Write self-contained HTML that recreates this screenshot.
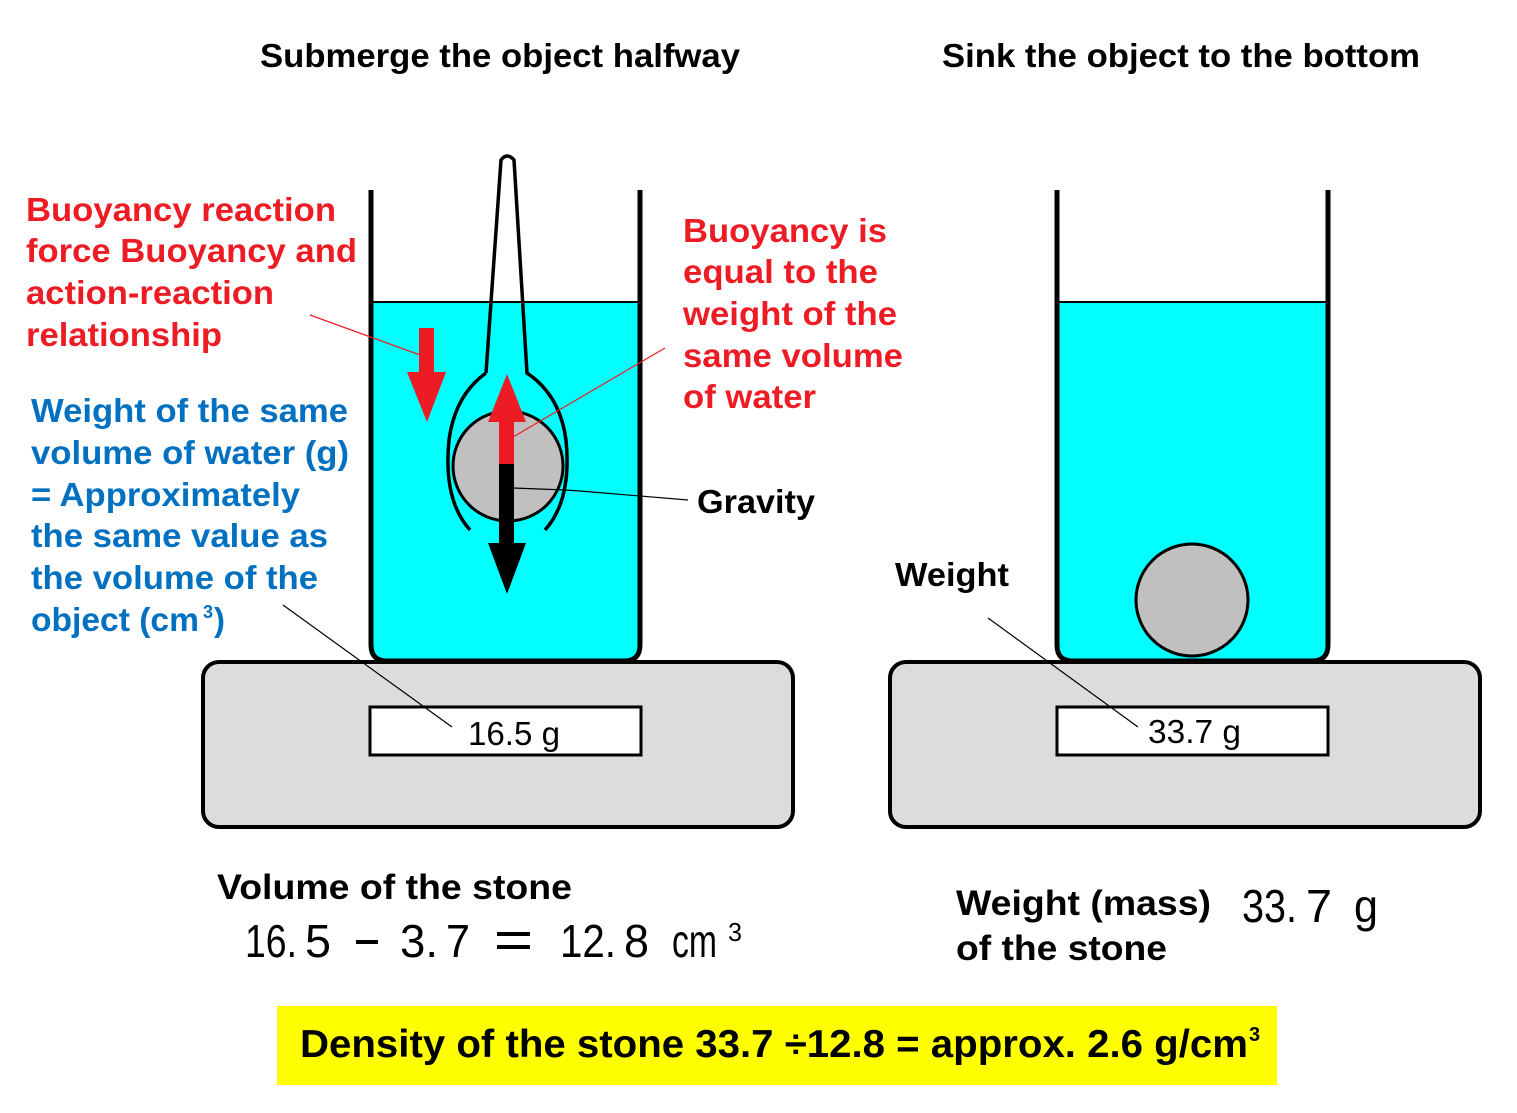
<!DOCTYPE html>
<html><head><meta charset="utf-8"><style>
html,body{margin:0;padding:0;background:#fff}
svg{display:block}
text{font-family:"Liberation Sans",sans-serif}
.b{font-weight:bold}
</style></head><body>
<svg width="1517" height="1113" viewBox="0 0 1517 1113" xmlns="http://www.w3.org/2000/svg">
<text x="260" y="67" class="b" font-size="33" textLength="480" lengthAdjust="spacingAndGlyphs">Submerge the object halfway</text>
<text x="942" y="67" class="b" font-size="33" textLength="478" lengthAdjust="spacingAndGlyphs">Sink the object to the bottom</text>

<rect x="203" y="662" width="590" height="165" rx="16" fill="#dcdcdc" stroke="#000" stroke-width="4"/>
<rect x="370" y="707" width="271" height="48" fill="#fff" stroke="#000" stroke-width="3"/>
<path d="M372 302 H639 V645 Q639 660 624 660 H387 Q372 660 372 645 Z" fill="#00ffff" stroke="#000" stroke-width="2"/>
<path d="M371 190 V645 Q371 661 387 661 H624 Q640 661 640 645 V190" fill="none" stroke="#000" stroke-width="5"/>
<path d="M486 373 L501 160 Q507 152 514 160 L527 373 Q560 395 566 440 Q572 500 545 530" fill="none" stroke="#000" stroke-width="3.5"/>
<path d="M486 373 Q455 395 449 440 Q443 500 470 530" fill="none" stroke="#000" stroke-width="3.5"/>
<circle cx="508" cy="466" r="55" fill="#c0c0c0" stroke="#000" stroke-width="3"/>
<rect x="499" y="420" width="15" height="45" fill="#ed1c24"/>
<polygon points="507,374 488,422 526,422" fill="#ed1c24"/>
<rect x="499" y="464" width="15" height="82" fill="#000"/>
<polygon points="488,543 526,543 507,594" fill="#000"/>
<rect x="419" y="328" width="15" height="46" fill="#ed1c24"/>
<polygon points="407,372 446,372 427,422" fill="#ed1c24"/>
<line x1="310" y1="315" x2="420" y2="355" stroke="#ed1c24" stroke-width="1.2"/>
<line x1="665" y1="348" x2="513" y2="437" stroke="#ed1c24" stroke-width="1.2"/>
<polyline points="513,488 565,490 580,491 688,500" fill="none" stroke="#000" stroke-width="1.2"/>
<line x1="283" y1="605" x2="452" y2="727" stroke="#000" stroke-width="1.2"/>
<text x="468" y="745" font-size="33" textLength="92" lengthAdjust="spacingAndGlyphs">16.5 g</text>

<rect x="890" y="662" width="590" height="165" rx="16" fill="#dcdcdc" stroke="#000" stroke-width="4"/>
<rect x="1057" y="707" width="271" height="48" fill="#fff" stroke="#000" stroke-width="3"/>
<path d="M1058 302 H1327 V645 Q1327 660 1312 660 H1073 Q1058 660 1058 645 Z" fill="#00ffff" stroke="#000" stroke-width="2"/>
<path d="M1057 190 V645 Q1057 661 1073 661 H1312 Q1328 661 1328 645 V190" fill="none" stroke="#000" stroke-width="5"/>
<circle cx="1192" cy="600" r="56" fill="#c0c0c0" stroke="#000" stroke-width="3"/>
<line x1="988" y1="618" x2="1138" y2="727" stroke="#000" stroke-width="1.2"/>
<text x="1148" y="743" font-size="33" textLength="93" lengthAdjust="spacingAndGlyphs">33.7 g</text>

<g class="b" font-size="33" fill="#ed1c24">
<text x="26" y="221" textLength="310" lengthAdjust="spacingAndGlyphs">Buoyancy reaction</text>
<text x="26" y="262" textLength="331" lengthAdjust="spacingAndGlyphs">force Buoyancy and</text>
<text x="26" y="304" textLength="248" lengthAdjust="spacingAndGlyphs">action-reaction</text>
<text x="26" y="346" textLength="196" lengthAdjust="spacingAndGlyphs">relationship</text>
</g>
<g class="b" font-size="33" fill="#0070c0">
<text x="31" y="422" textLength="317" lengthAdjust="spacingAndGlyphs">Weight of the same</text>
<text x="31" y="464" textLength="318" lengthAdjust="spacingAndGlyphs">volume of water (g)</text>
<text x="31" y="506" textLength="269" lengthAdjust="spacingAndGlyphs">= Approximately</text>
<text x="31" y="547" textLength="297" lengthAdjust="spacingAndGlyphs">the same value as</text>
<text x="31" y="589" textLength="287" lengthAdjust="spacingAndGlyphs">the volume of the</text>
<text x="31" y="631" textLength="168" lengthAdjust="spacingAndGlyphs">object (cm</text>
<text x="203" y="618" font-size="18">3</text>
<text x="214" y="631">)</text>
</g>
<g class="b" font-size="33" fill="#ed1c24">
<text x="683" y="242" textLength="204" lengthAdjust="spacingAndGlyphs">Buoyancy is</text>
<text x="683" y="283" textLength="195" lengthAdjust="spacingAndGlyphs">equal to the</text>
<text x="683" y="325" textLength="214" lengthAdjust="spacingAndGlyphs">weight of the</text>
<text x="683" y="367" textLength="220" lengthAdjust="spacingAndGlyphs">same volume</text>
<text x="683" y="408" textLength="133" lengthAdjust="spacingAndGlyphs">of water</text>
</g>
<text x="697" y="513" class="b" font-size="33" textLength="118" lengthAdjust="spacingAndGlyphs">Gravity</text>
<text x="895" y="586" class="b" font-size="33" textLength="114" lengthAdjust="spacingAndGlyphs">Weight</text>

<text x="217" y="899" class="b" font-size="35" textLength="355" lengthAdjust="spacingAndGlyphs">Volume of the stone</text>
<g font-size="46">
<text x="245" y="957" textLength="52" lengthAdjust="spacingAndGlyphs">16.</text>
<text x="305" y="957" textLength="26" lengthAdjust="spacingAndGlyphs">5</text>
<rect x="356" y="940" width="22" height="4" fill="#000"/>
<text x="400" y="957" textLength="38" lengthAdjust="spacingAndGlyphs">3.</text>
<text x="446" y="957" textLength="24" lengthAdjust="spacingAndGlyphs">7</text>
<rect x="497" y="932" width="33" height="4" fill="#000"/>
<rect x="497" y="945" width="33" height="4" fill="#000"/>
<text x="560" y="957" textLength="56" lengthAdjust="spacingAndGlyphs">12.</text>
<text x="624" y="957" textLength="25" lengthAdjust="spacingAndGlyphs">8</text>
<text x="672" y="957" textLength="45" lengthAdjust="spacingAndGlyphs">cm</text>
<text x="728" y="941" font-size="26" textLength="14" lengthAdjust="spacingAndGlyphs">3</text>
</g>
<text x="956" y="915" class="b" font-size="35" textLength="255" lengthAdjust="spacingAndGlyphs">Weight (mass)</text>
<text x="956" y="960" class="b" font-size="35" textLength="211" lengthAdjust="spacingAndGlyphs">of the stone</text>
<g font-size="46">
<text x="1242" y="922" textLength="55" lengthAdjust="spacingAndGlyphs">33.</text>
<text x="1306" y="922" textLength="26" lengthAdjust="spacingAndGlyphs">7</text>
<text x="1354" y="922" textLength="24" lengthAdjust="spacingAndGlyphs">g</text>
</g>

<rect x="277" y="1006" width="1000" height="79" fill="#ffff00"/>
<text x="300" y="1057" class="b" font-size="39" textLength="948" lengthAdjust="spacingAndGlyphs">Density of the stone 33.7 ÷12.8 = approx. 2.6 g/cm</text>
<text x="1249" y="1041" class="b" font-size="20">3</text>
</svg>
</body></html>
